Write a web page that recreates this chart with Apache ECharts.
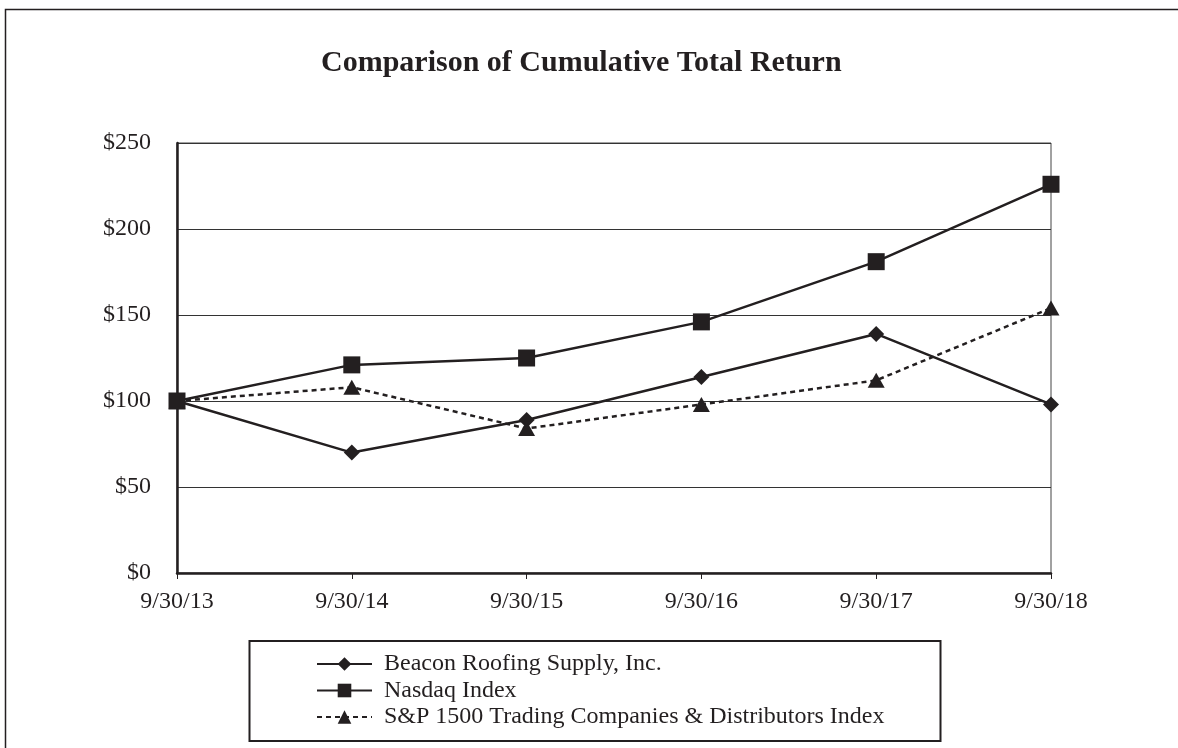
<!DOCTYPE html>
<html>
<head>
<meta charset="utf-8">
<script src="https://cdn.jsdelivr.net/npm/echarts@6/dist/echarts.min.js"></script>
<style>
  html, body { margin: 0; padding: 0; background: #fff; }
  #chart { width: 1178px; height: 748px; }
</style>
</head>
<body>
<div id="chart"></div>
<script>
const dates = ["9/30/13", "9/30/14", "9/30/15", "9/30/16", "9/30/17", "9/30/18"];
const beacon = [100, 70, 89, 114, 139, 98];
const nasdaq = [100, 121, 125, 146, 181, 226];
const spTrading = [100, 108, 84, 98, 112, 154];

const ink = "#231f20";
const serif = "'Liberation Serif', 'DejaVu Serif', serif";

const chart = echarts.init(document.getElementById("chart"));

const option = {
  animation: false,
  backgroundColor: "#fff",
  title: {
    text: "Comparison of Cumulative Total Return",
    left: 316,
    top: 43,
    textStyle: { fontFamily: serif, fontSize: 30, fontWeight: "bold", color: ink },
  },
  grid: {
    left: 177,
    right: 127,
    top: 143,
    bottom: 175,
    show: true,
    borderColor: "#444",
    borderWidth: 1,
  },
  legend: {
    orient: "vertical",
    left: 316,
    top: 652,
    padding: 0,
    itemWidth: 55,
    itemHeight: 17,
    itemGap: 2.5,
    textStyle: { fontFamily: serif, fontSize: 24, lineHeight: 24, color: ink, padding: [0, 0, 0, 7] },
    data: ["Beacon Roofing Supply, Inc.", "Nasdaq Index", "S&P 1500 Trading Companies & Distributors Index"],
  },
  xAxis: {
    type: "category",
    data: dates,
    boundaryGap: false,
    axisLine: { lineStyle: { color: ink, width: 2.5 } },
    axisTick: { show: true, length: 6, lineStyle: { color: ink, width: 1 } },
    axisLabel: { fontFamily: serif, fontSize: 24, color: ink, margin: 17 },
    splitLine: { show: false },
  },
  yAxis: {
    type: "value",
    min: 0,
    max: 250,
    interval: 50,
    axisLine: { show: true, lineStyle: { color: ink, width: 2.5 } },
    axisTick: { show: false },
    axisLabel: {
      fontFamily: serif,
      fontSize: 24,
      color: ink,
      margin: 26,
      formatter: (v) => "$" + v,
    },
    splitLine: { lineStyle: { color: "#333", width: 1 } },
  },
  series: [
    {
      name: "Beacon Roofing Supply, Inc.",
      type: "line",
      data: beacon,
      symbol: "diamond",
      symbolSize: [16, 16],
      lineStyle: { color: ink, width: 2.5 },
      itemStyle: { color: ink },
      z: 2,
    },
    {
      name: "Nasdaq Index",
      type: "line",
      data: nasdaq,
      symbol: "rect",
      symbolSize: 17,
      lineStyle: { color: ink, width: 2.5 },
      itemStyle: { color: ink },
      z: 4,
    },
    {
      name: "S&P 1500 Trading Companies & Distributors Index",
      type: "line",
      data: spTrading,
      symbol: "triangle",
      symbolSize: [17, 15],
      lineStyle: { color: ink, width: 2.5, type: [5, 4] },
      itemStyle: { color: ink },
      z: 3,
    },
  ],
  graphic: [
    {
      type: "rect",
      shape: { x: 5.5, y: 9.5, width: 1300, height: 900 },
      style: { fill: "none", stroke: ink, lineWidth: 1.5 },
      silent: true,
    },
    {
      type: "rect",
      shape: { x: 249.5, y: 641, width: 691, height: 100 },
      style: { fill: "none", stroke: ink, lineWidth: 2 },
      silent: true,
    },
  ],
};

chart.setOption(option);
</script>
</body>
</html>
